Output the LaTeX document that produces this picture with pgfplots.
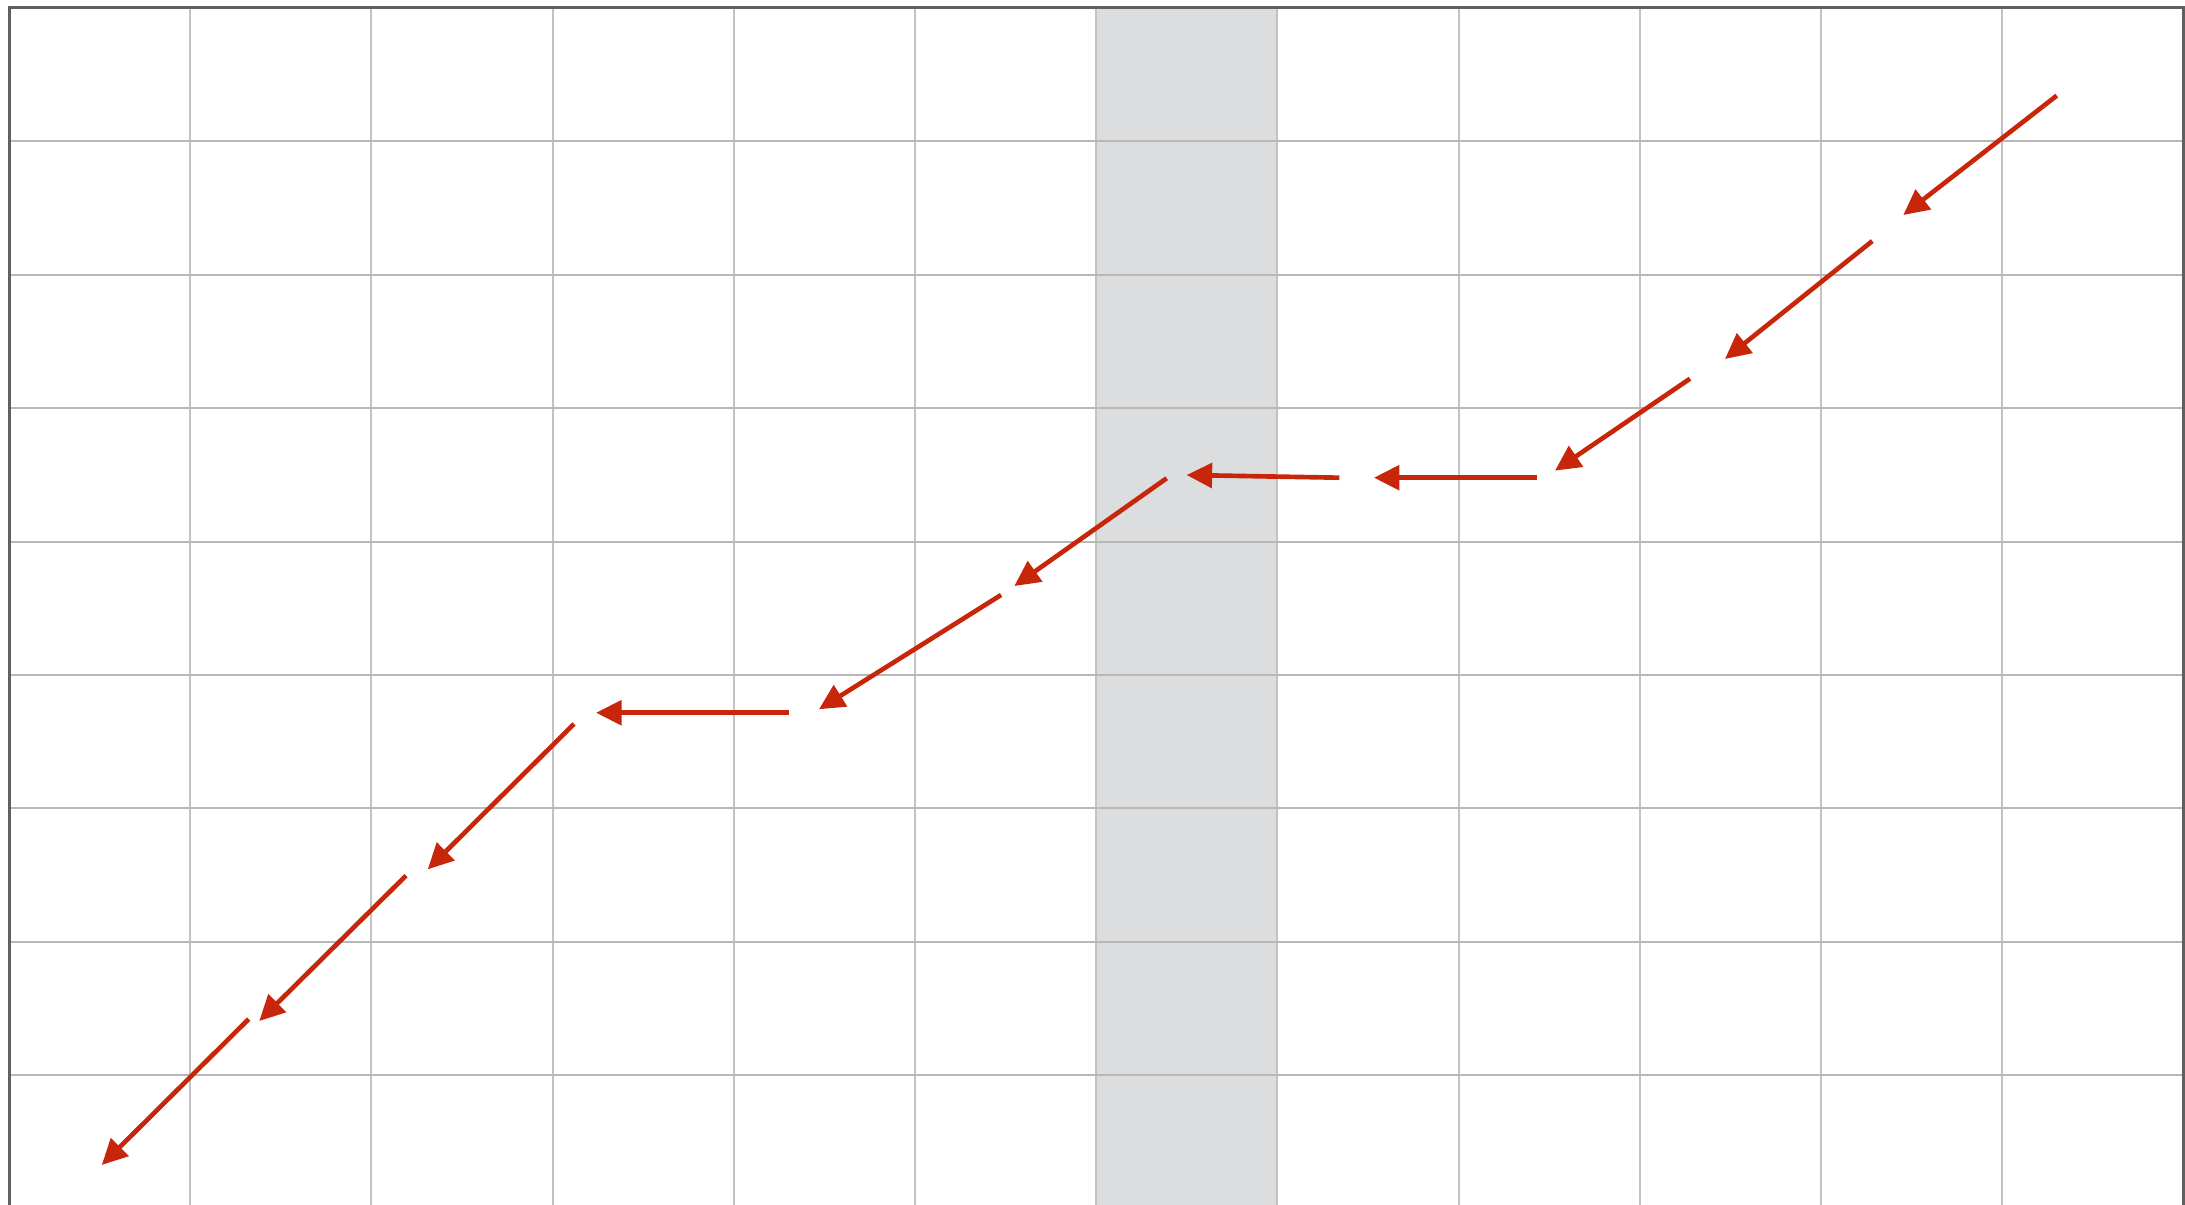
\documentclass[border=0pt]{standalone}
\usepackage{pgfplots}
\pgfplotsset{compat=1.18}
\usetikzlibrary{arrows.meta}
\definecolor{arrowred}{HTML}{C8260A}
\definecolor{gridgrayx}{HTML}{C2C2C2}
\definecolor{gridgrayy}{HTML}{B8B8B8}
\definecolor{bandgray}{HTML}{DCDDDF}
\definecolor{bordergray}{HTML}{606060}
\pgfplotstableread{
x y u v
11.301 8.343 -0.847 -0.895
10.283 7.253 -0.813 -0.884
9.277 6.221 -0.745 -0.689
8.431 5.479 -0.898 0
7.342 5.479 -0.843 0.020
6.389 5.475 -0.841 -0.808
5.475 4.600 -1.005 -0.857
4.305 3.717 -1.065 0
3.118 3.633 -0.807 -1.090
2.191 2.496 -0.810 -1.090
1.323 1.421 -0.811 -1.094
}\arrowdata
\begin{document}
\begin{tikzpicture}
\begin{axis}[
  set layers,
  scale only axis,
  x=36.24pt, y=26.68pt,
  xmin=0, xmax=12, ymin=0, ymax=9,
  xtick={0,...,12}, ytick={0,...,9},
  xticklabels={}, yticklabels={},
  major tick length=0pt,
  grid=major,
  x grid style={draw=gridgrayx, line width=0.4pt},
  y grid style={draw=gridgrayy, line width=0.4pt},
  axis line style={draw=bordergray, line width=0.6pt},
]
\addplot[on layer=axis background, fill=bandgray, draw=none] coordinates {(6,0) (6,9) (7,9) (7,0)};
\addplot[arrowred, line width=0.93pt, -{Triangle[length=5.1pt,width=4.9pt]},
  quiver={u=\thisrow{u}, v=\thisrow{v}}] table[x=x, y=y] {\arrowdata};
\coordinate (bbBL) at (axis cs:-0.0497,0.027);
\coordinate (bbTR) at (axis cs:12.0088,9.060);
\end{axis}
\pgfresetboundingbox
\useasboundingbox (bbBL) rectangle (bbTR);
\end{tikzpicture}
\end{document}
